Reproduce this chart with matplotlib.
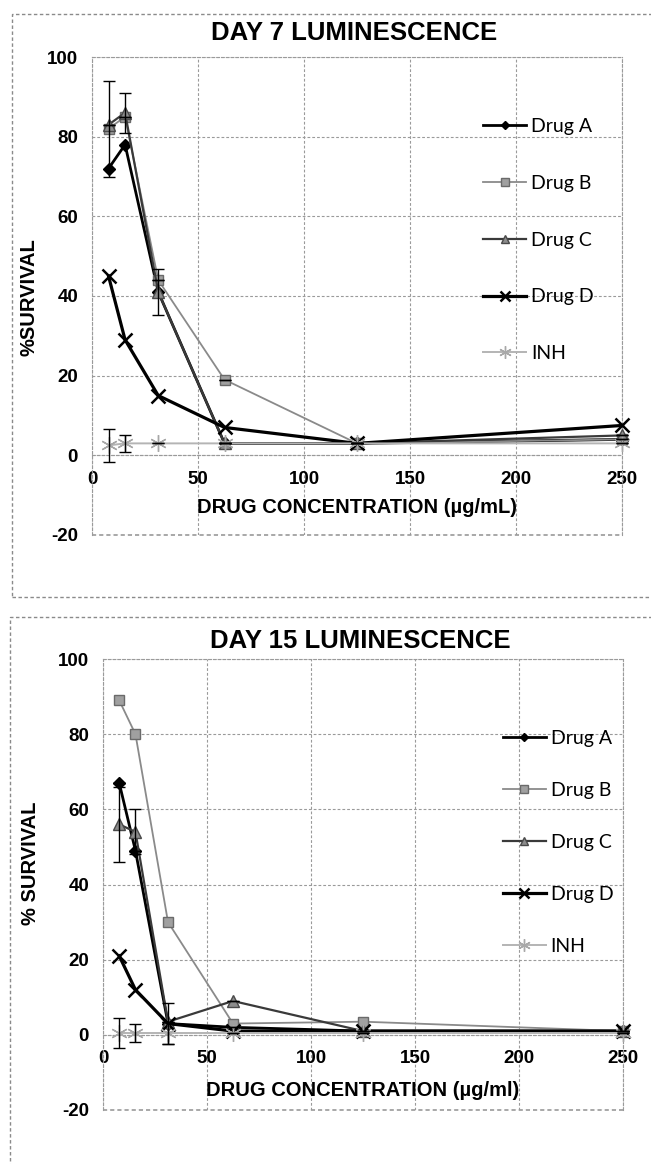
import matplotlib
matplotlib.use('Agg')
import matplotlib.pyplot as plt
from matplotlib.patches import Rectangle

# drug concentrations (ug/mL), two-fold dilutions
conc = [7.8, 15.6, 31.25, 62.5, 125, 250]
series_names = ['Drug A', 'Drug B', 'Drug C', 'Drug D', 'INH']

# day 7 % survival
day7_drug_a = [72, 78, 41, 3, 3, 4]
day7_drug_b = [82, 85, 44, 19, 3, 4]
day7_drug_c = [83, 86, 41, 3, 3, 5]
day7_drug_d = [45, 29, 15, 7, 3, 7.5]
day7_inh = [2.5, 3, 3, 3, 3, 3]

# day 7 error bars (only the visible ones)
day7_err_b = [12, 0, 0, 0, 0, 0]
day7_err_c = [0, 5, 5.7, 0, 0, 0]
day7_err_inh = [4.2, 2.1, 0, 0, 0, 0]

# day 15 % survival
day15_drug_a = [67, 49, 3, 2, 1, 1]
day15_drug_b = [89, 80, 30, 3, 3.5, 1]
day15_drug_c = [56, 54, 3.5, 9, 1, 1]
day15_drug_d = [21, 12, 3, 1, 1, 1]
day15_inh = [0.5, 0.5, 0.5, 0.5, 0.5, 0.5]

day15_err_a = [0, 0, 5.5, 0, 0, 0]
day15_err_c = [10, 6, 0, 0, 0, 0]
day15_err_inh = [4, 2.4, 3, 0, 0, 0]

xticks = [0, 50, 100, 150, 200, 250]
yticks = [-20, 0, 20, 40, 60, 80, 100]

W, H = 651, 1164
GRID = '#9a9a9a'
DASH = (0, (2.5, 1.8))

styles = [
    dict(color='black', lw=2.0, marker='D', ms=6, mfc='black', mec='black'),
    dict(color='#8a8a8a', lw=1.3, marker='s', ms=7, mfc='#a0a0a0', mec='#6a6a6a'),
    dict(color='#3a3a3a', lw=1.6, marker='^', ms=8, mfc='#8c8c8c', mec='#4a4a4a'),
    dict(color='black', lw=2.3, marker='x', ms=10, mew=1.8, mec='black'),
    dict(color='#b4b4b4', lw=1.4, marker=(6, 2, 0), ms=12, mew=1.0, mec='#a8a8a8'),
]


def px_box(left, top, right, bottom):
    return [left / W, 1 - bottom / H, (right - left) / W, (bottom - top) / H]


def plot_panel(fig, ax, values, errors, title, title_xy, ylabel, ylabel_xy,
               xlabel, xlabel_y, legend_x, legend_y, spacing):
    for name, vals, st in zip(series_names, values, styles):
        ax.plot(conc, vals, label=name, clip_on=False, zorder=3, **st)
    for idx, err in errors:
        ax.errorbar(conc, values[idx], yerr=err, fmt='none', ecolor='black',
                    elinewidth=1.0, capsize=4, capthick=1.0, zorder=4,
                    clip_on=False)

    ax.set_xlim(0, 250)
    ax.set_ylim(-20, 100)
    ax.set_xticks(xticks)
    ax.set_yticks(yticks)
    ax.grid(True, color=GRID, linestyle=DASH, linewidth=0.8)
    ax.set_axisbelow(True)
    for side in ['left', 'right', 'top', 'bottom']:
        ax.spines[side].set_color(GRID)
        ax.spines[side].set_linestyle(DASH)
        ax.spines[side].set_linewidth(0.8)
    ax.spines['bottom'].set_position(('data', 0))
    ax.axhline(-20, color=GRID, linestyle=DASH, linewidth=1.2, clip_on=False)
    ax.tick_params(axis='both', length=0, labelsize=13.5)
    ax.tick_params(axis='x', pad=11)
    ax.tick_params(axis='y', pad=10)
    for lbl in ax.get_xticklabels() + ax.get_yticklabels():
        lbl.set_fontweight('bold')

    ax.text(0.5, xlabel_y, xlabel, transform=ax.transAxes, ha='center',
            va='center', fontsize=14.5, fontweight='bold')

    fig.text(title_xy[0] / W, 1 - title_xy[1] / H, title, ha='center',
             va='center', fontsize=18.5, fontweight='bold')
    fig.text(ylabel_xy[0] / W, 1 - ylabel_xy[1] / H, ylabel, ha='center',
             va='center', rotation=90, fontsize=14.5, fontweight='bold')

    ax.legend(loc='center left', bbox_to_anchor=(legend_x, legend_y),
              frameon=False, borderpad=0, borderaxespad=0, numpoints=1,
              markerscale=0.75, handlelength=2.2, handletextpad=0.25,
              labelspacing=spacing,
              prop={'family': 'Lato', 'size': 14, 'weight': 'normal'})


def main():
    plt.rcParams['font.family'] = ['Liberation Sans', 'DejaVu Sans']
    plt.rcParams['axes.unicode_minus'] = False
    fig = plt.figure(figsize=(W / 100, H / 100), dpi=100)

    # scanned panel frames
    for left, top in [(12, 14), (10, 617)]:
        bottom = 597 if top == 14 else H + 20
        fig.add_artist(Rectangle((left / W, 1 - bottom / H),
                                 (W + 20 - left) / W, (bottom - top) / H,
                                 transform=fig.transFigure, fill=False,
                                 edgecolor='#8a8a8a', linestyle=DASH,
                                 linewidth=1.0))

    ax7 = fig.add_axes(px_box(92, 57, 622, 535))
    plot_panel(fig, ax7,
               [day7_drug_a, day7_drug_b, day7_drug_c, day7_drug_d, day7_inh],
               [(1, day7_err_b), (2, day7_err_c), (4, day7_err_inh)],
               'DAY 7 LUMINESCENCE', (354, 33), '%SURVIVAL', (29, 297),
               'DRUG CONCENTRATION (\u00b5g/mL)', 0.057, 0.738, 0.617, 2.05)

    ax15 = fig.add_axes(px_box(103, 659, 623, 1110))
    plot_panel(fig, ax15,
               [day15_drug_a, day15_drug_b, day15_drug_c, day15_drug_d, day15_inh],
               [(0, day15_err_a), (2, day15_err_c), (4, day15_err_inh)],
               'DAY 15 LUMINESCENCE', (360, 641), '% SURVIVAL', (30, 863),
               'DRUG CONCENTRATION (\u00b5g/ml)', 0.044, 0.769, 0.593, 1.8)

    fig.savefig('out.png', dpi=100)


if __name__ == '__main__':
    main()
